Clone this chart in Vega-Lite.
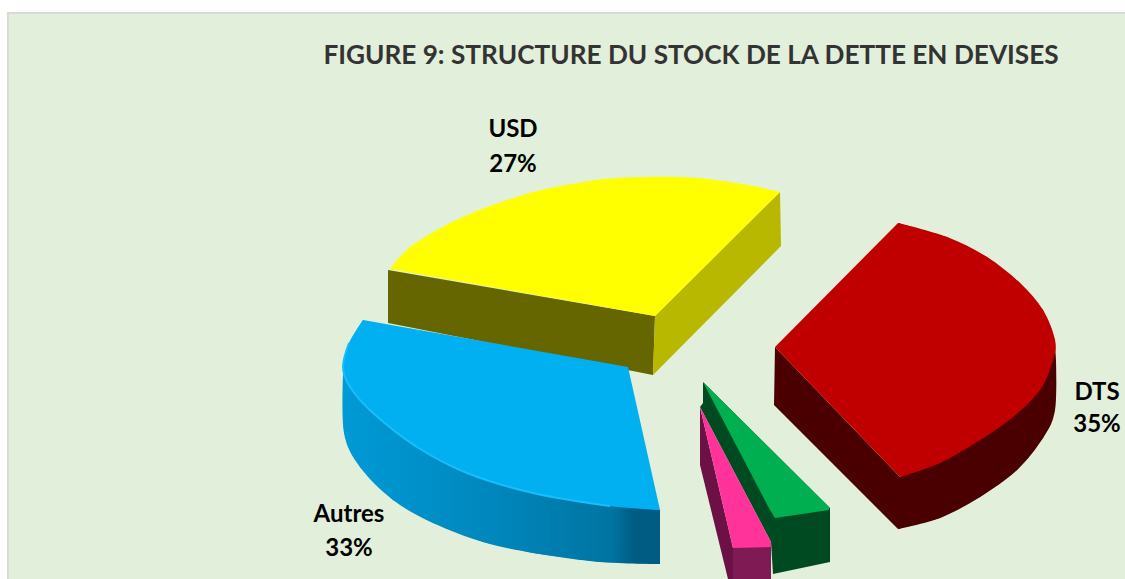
{
"$schema":"https://vega.github.io/schema/vega-lite/v6.json",
"width":1125,"height":579,"padding":0,"autosize":{"type":"fit","contains":"padding"},
"background":"#ffffff","view":{"stroke":null},
"datasets":{
"panel":[{"x":8,"x2":1130,"y":13,"y2":585}],
"labels":[
{"t":"FIGURE 9: STRUCTURE DU STOCK DE LA DETTE EN DEVISES","k":"title","x":691,"y":56},
{"t":"USD","k":"slice","x":513,"y":130},
{"t":"27%","k":"slice","x":513,"y":165},
{"t":"DTS","k":"slice","x":1097,"y":393},
{"t":"35%","k":"slice","x":1097,"y":425},
{"t":"Autres","k":"slice","x":349,"y":515},
{"t":"33%","k":"slice","x":349,"y":549}
],
"shapes":[
{"p":"usd_left","i":0,"x":388,"y":270},{"p":"usd_left","i":1,"x":655,"y":316},{"p":"usd_left","i":2,"x":653,"y":375},{"p":"usd_left","i":3,"x":388,"y":323},
{"p":"usd_right","i":0,"x":655,"y":316},{"p":"usd_right","i":1,"x":780,"y":192},{"p":"usd_right","i":2,"x":781,"y":246},{"p":"usd_right","i":3,"x":653,"y":375},
{"p":"usd_wedge","i":0,"x":390,"y":269},{"p":"usd_wedge","i":1,"x":413,"y":245},{"p":"usd_wedge","i":2,"x":463,"y":217},{"p":"usd_wedge","i":3,"x":530,"y":193},{"p":"usd_wedge","i":4,"x":597,"y":180},{"p":"usd_wedge","i":5,"x":647,"y":177},{"p":"usd_wedge","i":6,"x":697,"y":178},{"p":"usd_wedge","i":7,"x":747,"y":185},{"p":"usd_wedge","i":8,"x":780,"y":192},{"p":"usd_wedge","i":9,"x":655,"y":316},
{"p":"usd_arc","i":0,"x":390,"y":269},{"p":"usd_arc","i":1,"x":413,"y":245},{"p":"usd_arc","i":2,"x":463,"y":217},{"p":"usd_arc","i":3,"x":530,"y":193},{"p":"usd_arc","i":4,"x":597,"y":180},{"p":"usd_arc","i":5,"x":647,"y":177},{"p":"usd_arc","i":6,"x":697,"y":178},{"p":"usd_arc","i":7,"x":747,"y":185},{"p":"usd_arc","i":8,"x":780,"y":192},
{"p":"dts_side","i":0,"x":775,"y":347},{"p":"dts_side","i":1,"x":774,"y":405},{"p":"dts_side","i":2,"x":898,"y":529},{"p":"dts_side","i":3,"x":940,"y":518},{"p":"dts_side","i":4,"x":980,"y":497},{"p":"dts_side","i":5,"x":1017,"y":470},{"p":"dts_side","i":6,"x":1043,"y":438},{"p":"dts_side","i":7,"x":1055,"y":410},{"p":"dts_side","i":8,"x":1056,"y":360},{"p":"dts_side","i":9,"x":1055,"y":345},{"p":"dts_side","i":10,"x":900,"y":477},
{"p":"dts_bottom","i":0,"x":898,"y":529},{"p":"dts_bottom","i":1,"x":940,"y":518},{"p":"dts_bottom","i":2,"x":980,"y":497},{"p":"dts_bottom","i":3,"x":1017,"y":470},{"p":"dts_bottom","i":4,"x":1043,"y":438},{"p":"dts_bottom","i":5,"x":1055,"y":410},{"p":"dts_bottom","i":6,"x":1056,"y":360},
{"p":"dts_wedge","i":0,"x":898,"y":223},{"p":"dts_wedge","i":1,"x":947,"y":237},{"p":"dts_wedge","i":2,"x":987,"y":257},{"p":"dts_wedge","i":3,"x":1020,"y":283},{"p":"dts_wedge","i":4,"x":1043,"y":310},{"p":"dts_wedge","i":5,"x":1055,"y":340},{"p":"dts_wedge","i":6,"x":1053,"y":360},{"p":"dts_wedge","i":7,"x":1040,"y":390},{"p":"dts_wedge","i":8,"x":1013,"y":417},{"p":"dts_wedge","i":9,"x":980,"y":440},{"p":"dts_wedge","i":10,"x":940,"y":463},{"p":"dts_wedge","i":11,"x":900,"y":477},{"p":"dts_wedge","i":12,"x":775,"y":347},
{"p":"dts_arc","i":0,"x":898,"y":223},{"p":"dts_arc","i":1,"x":947,"y":237},{"p":"dts_arc","i":2,"x":987,"y":257},{"p":"dts_arc","i":3,"x":1020,"y":283},{"p":"dts_arc","i":4,"x":1043,"y":310},{"p":"dts_arc","i":5,"x":1055,"y":340},{"p":"dts_arc","i":6,"x":1053,"y":360},{"p":"dts_arc","i":7,"x":1040,"y":390},{"p":"dts_arc","i":8,"x":1013,"y":417},{"p":"dts_arc","i":9,"x":980,"y":440},{"p":"dts_arc","i":10,"x":940,"y":463},{"p":"dts_arc","i":11,"x":900,"y":477},
{"p":"green_side","i":0,"x":703,"y":382},{"p":"green_side","i":1,"x":703,"y":403},{"p":"green_side","i":2,"x":700,"y":407},{"p":"green_side","i":3,"x":771,"y":542},{"p":"green_side","i":4,"x":773,"y":574},{"p":"green_side","i":5,"x":830,"y":562},{"p":"green_side","i":6,"x":830,"y":508},
{"p":"green_top","i":0,"x":703,"y":382},{"p":"green_top","i":1,"x":829,"y":507},{"p":"green_top","i":2,"x":829,"y":510},{"p":"green_top","i":3,"x":775,"y":518},{"p":"green_top","i":4,"x":770,"y":510},
{"p":"pink_side","i":0,"x":700,"y":407},{"p":"pink_side","i":1,"x":700,"y":465},{"p":"pink_side","i":2,"x":728,"y":579},{"p":"pink_side","i":3,"x":733,"y":579},{"p":"pink_side","i":4,"x":733,"y":548},
{"p":"pink_front","i":0,"x":733,"y":546},{"p":"pink_front","i":1,"x":771,"y":543},{"p":"pink_front","i":2,"x":771,"y":579},{"p":"pink_front","i":3,"x":733,"y":579},
{"p":"pink_top","i":0,"x":700,"y":407},{"p":"pink_top","i":1,"x":771,"y":542},{"p":"pink_top","i":2,"x":771,"y":547},{"p":"pink_top","i":3,"x":733,"y":548},
{"p":"aut_side","i":0,"x":343,"y":367},{"p":"aut_side","i":1,"x":343,"y":375},{"p":"aut_side","i":2,"x":344,"y":433},{"p":"aut_side","i":3,"x":360,"y":467},{"p":"aut_side","i":4,"x":393,"y":500},{"p":"aut_side","i":5,"x":433,"y":523},{"p":"aut_side","i":6,"x":483,"y":542},{"p":"aut_side","i":7,"x":533,"y":553},{"p":"aut_side","i":8,"x":600,"y":562},{"p":"aut_side","i":9,"x":660,"y":564},{"p":"aut_side","i":10,"x":660,"y":510},
{"p":"aut_bottom","i":0,"x":343,"y":375},{"p":"aut_bottom","i":1,"x":344,"y":433},{"p":"aut_bottom","i":2,"x":360,"y":467},{"p":"aut_bottom","i":3,"x":393,"y":500},{"p":"aut_bottom","i":4,"x":433,"y":523},{"p":"aut_bottom","i":5,"x":483,"y":542},{"p":"aut_bottom","i":6,"x":533,"y":553},{"p":"aut_bottom","i":7,"x":600,"y":562},{"p":"aut_bottom","i":8,"x":660,"y":564},
{"p":"aut_wedge","i":0,"x":363,"y":320},{"p":"aut_wedge","i":1,"x":628,"y":367},{"p":"aut_wedge","i":2,"x":660,"y":510},{"p":"aut_wedge","i":3,"x":600,"y":505},{"p":"aut_wedge","i":4,"x":533,"y":493},{"p":"aut_wedge","i":5,"x":467,"y":473},{"p":"aut_wedge","i":6,"x":417,"y":447},{"p":"aut_wedge","i":7,"x":373,"y":413},{"p":"aut_wedge","i":8,"x":350,"y":387},{"p":"aut_wedge","i":9,"x":343,"y":367},{"p":"aut_wedge","i":10,"x":349,"y":343},
{"p":"aut_arc","i":0,"x":363,"y":320},{"p":"aut_arc","i":1,"x":349,"y":343},{"p":"aut_arc","i":2,"x":343,"y":367},{"p":"aut_arc","i":3,"x":350,"y":387},{"p":"aut_arc","i":4,"x":373,"y":413},{"p":"aut_arc","i":5,"x":417,"y":447},{"p":"aut_arc","i":6,"x":467,"y":473},{"p":"aut_arc","i":7,"x":533,"y":493},{"p":"aut_arc","i":8,"x":600,"y":505},{"p":"aut_arc","i":9,"x":660,"y":510},
{"p":"aut_edge","i":0,"x":610,"y":506},{"p":"aut_edge","i":1,"x":533,"y":493},{"p":"aut_edge","i":2,"x":467,"y":473},{"p":"aut_edge","i":3,"x":417,"y":447},{"p":"aut_edge","i":4,"x":373,"y":413},{"p":"aut_edge","i":5,"x":350,"y":387},{"p":"aut_edge","i":6,"x":343,"y":367},{"p":"aut_edge","i":7,"x":349,"y":343}
]},
"layer":[
{"data":{"name":"panel"},"mark":{"type":"rect","fill":"#E2EFDA","stroke":"#D9D9D9","strokeWidth":2,"clip":true},
 "encoding":{"x":{"field":"x","type":"quantitative","scale":{"domain":[0,1125],"nice":false,"zero":false},"axis":null},"x2":{"field":"x2"},"y":{"field":"y","type":"quantitative","scale":{"domain":[579,0],"nice":false,"zero":false},"axis":null},"y2":{"field":"y2"}}},
{"data":{"name":"shapes"},"transform":[{"filter":"indexof(['usd_left','usd_right','dts_side','green_side','green_top','pink_side','pink_front','pink_top'],datum.p)>=0"}],
 "mark":{"type":"line","filled":true,"interpolate":"linear"},
 "encoding":{"x":{"field":"x","type":"quantitative","axis":null},"y":{"field":"y","type":"quantitative","axis":null},"order":{"field":"i"},
 "color":{"field":"p","type":"nominal","legend":null,"sort":null,"scale":{"domain":["usd_left","usd_right","usd_wedge","usd_arc","dts_side","dts_bottom","dts_wedge","dts_arc","green_side","green_top","pink_side","pink_front","pink_top"],"range":["#666600","#B8B800","#FFFF00","#FFFF00","#4A0000","#4A0000","#C00000","#C00000","#004A22","#00B050","#6B1145","#7F1A55","#FF3399"]}}}},
{"data":{"name":"shapes"},"transform":[{"filter":"datum.p==='dts_bottom'"}],
 "mark":{"type":"line","filled":true,"interpolate":"cardinal"},
 "encoding":{"x":{"field":"x","type":"quantitative","axis":null},"y":{"field":"y","type":"quantitative","axis":null},"order":{"field":"i"},"color":{"field":"p","type":"nominal","legend":null}}},
{"data":{"name":"shapes"},"transform":[{"filter":"datum.p==='usd_wedge'||datum.p==='dts_wedge'"}],
 "mark":{"type":"line","filled":true,"interpolate":"linear"},
 "encoding":{"x":{"field":"x","type":"quantitative","axis":null},"y":{"field":"y","type":"quantitative","axis":null},"order":{"field":"i"},"color":{"field":"p","type":"nominal","legend":null}}},
{"data":{"name":"shapes"},"transform":[{"filter":"datum.p==='usd_arc'||datum.p==='dts_arc'"}],
 "mark":{"type":"line","filled":true,"interpolate":"cardinal"},
 "encoding":{"x":{"field":"x","type":"quantitative","axis":null},"y":{"field":"y","type":"quantitative","axis":null},"order":{"field":"i"},"color":{"field":"p","type":"nominal","legend":null}}},
{"data":{"name":"shapes"},"transform":[{"filter":"datum.p==='aut_side'"}],
 "mark":{"type":"line","filled":true,"interpolate":"linear","fill":{"gradient":"linear","x1":0,"y1":0,"x2":1,"y2":0,"stops":[{"offset":0,"color":"#009AD6"},{"offset":0.45,"color":"#0088BE"},{"offset":0.85,"color":"#0074A2"},{"offset":0.92,"color":"#005C82"},{"offset":1,"color":"#005C82"}]}},
 "encoding":{"x":{"field":"x","type":"quantitative","axis":null},"y":{"field":"y","type":"quantitative","axis":null},"order":{"field":"i"}}},
{"data":{"name":"shapes"},"transform":[{"filter":"datum.p==='aut_bottom'"}],
 "mark":{"type":"line","filled":true,"interpolate":"cardinal","fill":{"gradient":"linear","x1":0,"y1":0,"x2":1,"y2":0,"stops":[{"offset":0,"color":"#009AD6"},{"offset":0.45,"color":"#0088BE"},{"offset":0.85,"color":"#0074A2"},{"offset":0.92,"color":"#005C82"},{"offset":1,"color":"#005C82"}]}},
 "encoding":{"x":{"field":"x","type":"quantitative","axis":null},"y":{"field":"y","type":"quantitative","axis":null},"order":{"field":"i"}}},
{"data":{"name":"shapes"},"transform":[{"filter":"datum.p==='aut_wedge'"}],
 "mark":{"type":"line","filled":true,"fill":"#00B0F0","interpolate":"linear"},
 "encoding":{"x":{"field":"x","type":"quantitative","axis":null},"y":{"field":"y","type":"quantitative","axis":null},"order":{"field":"i"}}},
{"data":{"name":"shapes"},"transform":[{"filter":"datum.p==='aut_arc'"}],
 "mark":{"type":"line","filled":true,"fill":"#00B0F0","interpolate":"cardinal"},
 "encoding":{"x":{"field":"x","type":"quantitative","axis":null},"y":{"field":"y","type":"quantitative","axis":null},"order":{"field":"i"}}},
{"data":{"name":"shapes"},"transform":[{"filter":"datum.p==='aut_edge'"}],
 "mark":{"type":"line","stroke":"#18BEF8","strokeWidth":2,"interpolate":"cardinal"},
 "encoding":{"x":{"field":"x","type":"quantitative","axis":null},"y":{"field":"y","type":"quantitative","axis":null},"order":{"field":"i"}}},
{"data":{"name":"labels"},"transform":[{"filter":"datum.k==='title'"}],
 "mark":{"type":"text","font":"Lato","fontWeight":"bold","fontSize":26.2,"fill":"#333333","align":"center","baseline":"middle"},
 "encoding":{"x":{"field":"x","type":"quantitative","axis":null},"y":{"field":"y","type":"quantitative","axis":null},"text":{"field":"t"}}},
{"data":{"name":"labels"},"transform":[{"filter":"datum.k==='slice'"}],
 "mark":{"type":"text","font":"Lato","fontWeight":"bold","fontSize":24,"fill":"#000000","align":"center","baseline":"middle"},
 "encoding":{"x":{"field":"x","type":"quantitative","axis":null},"y":{"field":"y","type":"quantitative","axis":null},"text":{"field":"t"}}}
]}
